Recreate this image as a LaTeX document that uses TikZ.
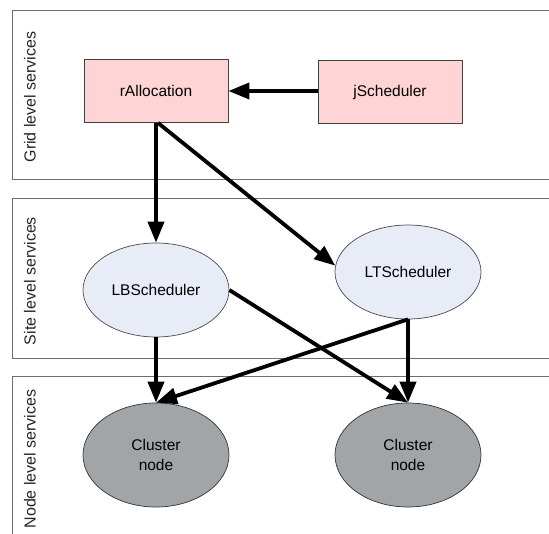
\documentclass[tikz,border=0pt]{standalone}
\usepackage{fontspec}
\setmainfont{Liberation Sans}
\usetikzlibrary{shapes.geometric,arrows.meta}
\definecolor{boxpink}{RGB}{255,212,212}
\definecolor{sitefill}{RGB}{232,236,246}
\definecolor{clusterfill}{RGB}{162,165,168}
\definecolor{laneline}{RGB}{110,110,110}
\tikzset{
  lane/.style={draw=laneline, line width=0.9pt},
  lanelabel/.style={rotate=90, font=\fontsize{16pt}{18pt}\selectfont, text=black!85},
  service/.style={draw=black!75, line width=0.8pt, fill=boxpink, minimum width=144pt, minimum height=63pt, inner sep=0pt, font=\fontsize{15.5pt}{17pt}\selectfont},
  sitenode/.style={ellipse, draw=black!70, line width=0.7pt, fill=sitefill, minimum width=146pt, minimum height=94pt, inner sep=0pt, font=\fontsize{15.5pt}{17pt}\selectfont},
  clusternode/.style={ellipse, draw=black!80, line width=0.7pt, fill=clusterfill, minimum width=146pt, minimum height=104pt, inner sep=0pt, align=center, font=\fontsize{15.5pt}{20pt}\selectfont},
  flow/.style={line width=3.8pt, -{Triangle[length=21pt,width=16pt]}},
}
\begin{document}
\begin{tikzpicture}[x=1pt, y=-1pt]
  \useasboundingbox (0,0) rectangle (549,534);
  \fill[white] (0,0) rectangle (549,534);
  % swim lanes
  \draw[lane] (560,10) -- (12,10) -- (12,179) -- (560,179);
  \draw[lane] (560,198) -- (12,198) -- (12,358) -- (560,358);
  \draw[lane] (560,376) -- (12,376) -- (12,545);
  \node[lanelabel] (lgrid) at (30,97) {Grid level services};
  \node[lanelabel] (lsite) at (30,281) {Site level services};
  \node[lanelabel] (lnode) at (30,459) {Node level services};
  % grid level
  \node[service] (ralloc) at (156,91) {rAllocation};
  \node[service] (jsched) at (390,92) {jScheduler};
  % site level
  \node[sitenode] (lbs) at (156,290) {LBScheduler};
  \node[sitenode] (lts) at (408,272) {LTScheduler};
  % node level
  \node[clusternode] (c1) at (156,455) {Cluster\\node};
  \node[clusternode] (c2) at (408,455) {Cluster\\node};
  % connectors
  \draw[flow] (jsched.west |- ralloc.east) -- (ralloc.east);
  \draw[flow] (ralloc.south) -- (lbs.north);
  \draw[flow] ([xshift=2pt]ralloc.south) -- (lts.175);
  \draw[flow] (lbs.east) -- (c2.north);
  \draw[flow] (lts.south) -- (c1.north);
  \draw[flow] (lts.south) -- (c2.north);
  \draw[flow] (lbs.south) -- (c1.north);
\end{tikzpicture}
\end{document}
